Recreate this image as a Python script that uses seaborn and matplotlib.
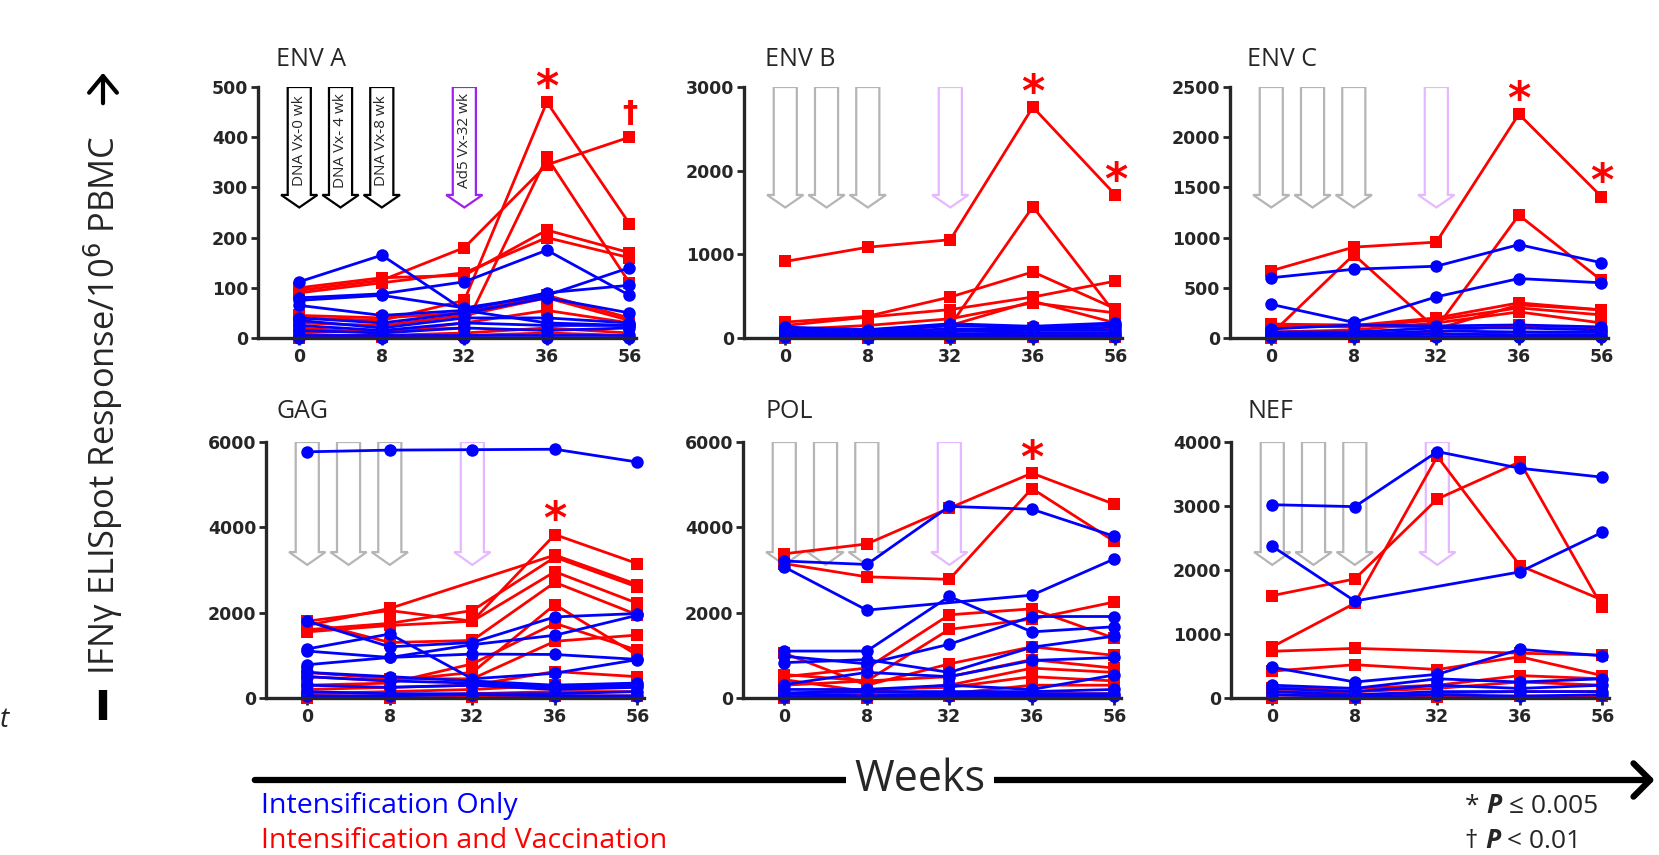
import numpy as np
import pandas as pd
import matplotlib
matplotlib.use("Agg")
import matplotlib.pyplot as plt
import seaborn as sns
from matplotlib.patches import Polygon, FancyArrowPatch
from matplotlib.lines import Line2D
from matplotlib.transforms import blended_transform_factory


WEEKS = [0, 8, 32, 36, 56]
DNA_WEEKS = [0, 4, 8]
AD5_WEEK = 32
DNA_LABELS = ["DNA Vx-0 wk", "DNA Vx- 4 wk", "DNA Vx-8 wk"]
AD5_LABEL = "Ad5 Vx-32 wk"

GROUP_BLUE = "Intensification Only"
GROUP_RED = "Intensification and Vaccination"

PANELS = ["ENV A", "ENV B", "ENV C", "GAG", "POL", "NEF"]
Y_MAX = [500, 3000, 2500, 6000, 6000, 4000]
Y_STEP = [100, 1000, 500, 2000, 2000, 1000]

# one row per subject, values at weeks 0, 8, 32, 36, 56 (None = no point)
ENV_A_RED = [
    [95, 115, 180, 345, 400],
    [40, 35, 75, 470, 228],
    [10, 15, 20, 360, 110],
    [100, 120, 125, 215, 170],
    [90, 110, 130, 200, 160],
    [45, 40, 50, 85, 40],
    [30, 25, 45, 80, 35],
    [20, 10, 30, 55, 30],
    [5, 5, 10, 20, 10],
    [0, 2, 5, 10, 5],
]
ENV_A_BLUE = [
    [112, 165, 55, 30, 25],
    [80, 88, 112, 175, 85],
    [75, 85, 60, 85, 140],
    [65, 45, 55, 90, 105],
    [40, 30, 50, 80, 50],
    [35, 20, 40, 40, 30],
    [25, 15, 30, 25, 25],
    [15, 10, 20, 15, 20],
    [5, 5, 5, 5, 5],
    [0, 0, 0, 0, 0],
]
ENV_B_RED = [
    [915, 1085, 1175, 2760, 1710],
    [50, 80, 150, 1570, 290],
    [190, 260, 490, 790, 350],
    [150, 250, 340, 490, 680],
    [100, 150, 230, 420, 300],
    [60, 90, 150, 440, 180],
    [30, 50, 80, 120, 100],
    [10, 20, 20, 50, 40],
    [0, 5, 5, 10, 10],
]
ENV_B_BLUE = [
    [130, 100, 170, 140, 180],
    [100, 80, 150, 120, 160],
    [80, 70, 110, 100, 130],
    [60, 50, 80, 90, 90],
    [40, 40, 50, 60, 60],
    [20, 20, 30, 30, 30],
    [10, 5, 10, 10, 10],
]
ENV_C_RED = [
    [670, 905, 955, 2230, 1408],
    [40, 830, 90, 330, 280],
    [130, 130, 100, 1224, 575],
    [140, 125, 200, 350, 280],
    [120, 110, 180, 300, 230],
    [60, 80, 150, 260, 150],
    [20, 30, 60, 130, 80],
    [0, 10, 20, 60, 40],
]
ENV_C_BLUE = [
    [600, 685, 715, 930, 750],
    [335, 155, 410, 592, 550],
    [90, 130, 120, 130, 110],
    [60, 60, 100, 100, 80],
    [40, 40, 70, 60, 60],
    [20, 20, 40, 30, 30],
    [10, 5, 10, 10, 10],
]
GAG_RED = [
    [1800, 2050, 1800, 3830, 3150],
    [1700, 2100, None, 3350, 2660],
    [1600, 1750, 2050, 3300, 2600],
    [1550, 1700, 1800, 2960, 2220],
    [1800, 1300, 1350, 2710, 1950],
    [500, 400, 600, 2190, 1000],
    [300, 350, 800, 1750, 1120],
    [600, 450, 450, 1330, 1475],
    [200, 250, 300, 620, 500],
    [100, 150, 200, 300, 300],
    [50, 50, 100, 150, 150],
    [0, 0, 20, 50, 50],
]
GAG_BLUE = [
    [5770, 5810, 5820, 5830, 5530],
    [1800, 1200, 1300, 1900, 1980],
    [1150, 1500, 450, 580, 900],
    [1100, 950, 1250, 1470, 1940],
    [780, 950, 1030, 1020, 905],
    [600, 500, 400, 300, 350],
    [500, 400, 350, 250, 300],
    [300, 250, 300, 200, 250],
    [150, 100, 100, 100, 150],
    [50, 50, 80, 50, 50],
]
POL_RED = [
    [3380, 3610, 4450, 5270, 4540],
    [3150, 2840, 2780, 4910, 3670],
    [500, 700, 1950, 2090, 1400],
    [300, 400, 1610, 1850, 2250],
    [1050, 300, 800, 1200, 1000],
    [550, 400, 500, 900, 700],
    [430, 150, 300, 700, 600],
    [100, 200, 250, 500, 400],
    [50, 100, 100, 300, 300],
    [0, 0, 50, 100, 100],
]
POL_BLUE = [
    [3210, 3130, 4490, 4425, 3790],
    [3070, 2060, None, 2410, 3260],
    [1100, 1100, 2380, 1550, 1670],
    [980, 800, 1260, 1910, 1910],
    [830, 900, 600, 1190, 1450],
    [315, 600, 500, 880, 950],
    [200, 200, 300, 200, 540],
    [120, 150, 150, 150, 200],
    [100, 50, 100, 100, 100],
    [30, 20, 50, 50, 50],
]
NEF_RED = [
    [1600, 1860, 3110, 3690, 1420],
    [800, 1480, 3775, 2070, 1530],
    [730, 775, None, 700, 670],
    [420, 520, 445, 645, 350],
    [150, 150, 200, 350, 300],
    [100, 100, 150, 250, 200],
    [50, 50, 80, 100, 100],
    [0, 0, 20, 30, 30],
]
NEF_BLUE = [
    [3020, 2990, 3850, 3590, 3450],
    [2370, 1515, None, 1970, 2590],
    [480, 250, 370, 760, 660],
    [200, 150, 300, 250, 300],
    [150, 100, 200, 150, 200],
    [100, 50, 100, 100, 100],
    [50, 20, 50, 30, 50],
]

RED_SETS = [ENV_A_RED, ENV_B_RED, ENV_C_RED, GAG_RED, POL_RED, NEF_RED]
BLUE_SETS = [ENV_A_BLUE, ENV_B_BLUE, ENV_C_BLUE, GAG_BLUE, POL_BLUE, NEF_BLUE]

SIG_MARKS = [
    ("ENV A", 36, "*"),
    ("ENV A", 56, "\u2020"),
    ("ENV B", 36, "*"),
    ("ENV B", 56, "*"),
    ("ENV C", 36, "*"),
    ("ENV C", 56, "*"),
    ("GAG", 36, "*"),
    ("POL", 36, "*"),
]

RED = "#ff0000"
BLUE = "#0000ff"
PALETTE = {GROUP_RED: RED, GROUP_BLUE: BLUE}
MARKERS = {GROUP_RED: "s", GROUP_BLUE: "o"}

FIG_W, FIG_H = 1659, 855
AX_LEFT_PX = [258, 744, 1230, 266, 743, 1231]
ROW_PX = [(87, 338), (442, 698)]
AX_WIDTH_PX = 378
TITLE_X_PX = [276, 765, 1247]
TITLE_BASE_PX = [66, 418]


def build_frame():
    rows = []
    for panel, red, blue in zip(PANELS, RED_SETS, BLUE_SETS):
        for group, series in ((GROUP_RED, red), (GROUP_BLUE, blue)):
            for i, vals in enumerate(series):
                for j, (wk, v) in enumerate(zip(WEEKS, vals)):
                    if v is None:
                        continue
                    rows.append({"panel": panel, "group": group,
                                 "subject": f"{group[:6]}{i}",
                                 "week": wk, "pos": j, "value": v})
    return pd.DataFrame(rows)


def week_pos(week):
    return np.interp(week, WEEKS, np.arange(len(WEEKS)))


def block_arrow(ax, cx, edge, label=None):
    trans = blended_transform_factory(ax.transData, ax.transAxes)
    w, hw, top, base, tip = 0.14, 0.22, 1.0, 0.57, 0.52
    verts = [(cx - w, top), (cx + w, top), (cx + w, base), (cx + hw, base),
             (cx, tip), (cx - hw, base), (cx - w, base)]
    ax.add_patch(Polygon(verts, closed=True, facecolor="white",
                         edgecolor=edge, lw=1.6, transform=trans, zorder=1))
    if label:
        ax.text(cx, 0.785, label, rotation=90, ha="center", va="center",
                fontsize=11, transform=trans, zorder=1.5)


def main():
    sns.set_style("ticks")
    plt.rcParams["font.family"] = ["Open Sans", "DejaVu Sans"]
    df = build_frame()

    fig = plt.figure(figsize=(FIG_W / 100, FIG_H / 100), dpi=100)

    for k, panel in enumerate(PANELS):
        row = k // 3
        top_px, bot_px = ROW_PX[row]
        rect = [AX_LEFT_PX[k] / FIG_W, (FIG_H - bot_px) / FIG_H,
                AX_WIDTH_PX / FIG_W, (bot_px - top_px) / FIG_H]
        ax = fig.add_axes(rect)

        first = k == 0
        for wk, lab in zip(DNA_WEEKS, DNA_LABELS):
            block_arrow(ax, week_pos(wk), "black" if first else "#b5b5b5",
                        lab if first else None)
        block_arrow(ax, week_pos(AD5_WEEK), "#a020f0" if first else "#e6b8ff",
                    AD5_LABEL if first else None)

        d = df[df["panel"] == panel]
        sns.lineplot(data=d, x="pos", y="value", hue="group", style="group",
                     units="subject", estimator=None,
                     hue_order=[GROUP_RED, GROUP_BLUE],
                     style_order=[GROUP_RED, GROUP_BLUE],
                     palette=PALETTE, markers=MARKERS, dashes=False,
                     legend=False, ax=ax, linewidth=2.0, markersize=9,
                     markeredgewidth=0, clip_on=False)

        ymax = Y_MAX[k]
        ax.set_xlim(-0.5, 4.08)
        ax.set_ylim(0, ymax)
        ax.set_xticks(range(len(WEEKS)))
        ax.set_xticklabels([str(w) for w in WEEKS])
        ax.set_yticks(np.arange(0, ymax + 1, Y_STEP[k]))
        ax.set_xlabel("")
        ax.set_ylabel("")
        sns.despine(ax=ax)
        for side in ("left", "bottom"):
            ax.spines[side].set_linewidth(2.4)
        ax.tick_params(direction="out", length=5, width=2, pad=2, labelsize=12.5)
        for lab in ax.get_xticklabels() + ax.get_yticklabels():
            lab.set_fontfamily("DejaVu Sans")
            lab.set_fontweight("bold")

        fig.text(TITLE_X_PX[k % 3] / FIG_W, (FIG_H - TITLE_BASE_PX[row]) / FIG_H,
                 panel, fontsize=18, va="baseline", ha="left")

        for sp, wk, sym in SIG_MARKS:
            if sp != panel:
                continue
            vmax = d[(d["group"] == GROUP_RED) & (d["week"] == wk)]["value"].max()
            size, off = (32, 1) if sym == "*" else (22, 11)
            ax.annotate(sym, xy=(WEEKS.index(wk), vmax), xytext=(0, off),
                        textcoords="offset points", ha="center", va="baseline",
                        color=RED, fontsize=size, family="DejaVu Sans",
                        fontweight="bold", annotation_clip=False)

    # y-axis label with bar and arrow
    lx = 103 / FIG_W
    fig.text(lx, (FIG_H - 405) / FIG_H, "IFN\u03b3 ELISpot Response/10$^6$ PBMC",
             rotation=90, ha="center", va="center", fontsize=24.8)
    fig.add_artist(Line2D([lx, lx], [(FIG_H - 720) / FIG_H, (FIG_H - 690) / FIG_H],
                          lw=6, color="black", solid_capstyle="butt",
                          transform=fig.transFigure))
    fig.add_artist(FancyArrowPatch((lx, (FIG_H - 106) / FIG_H), (lx, (FIG_H - 70) / FIG_H),
                                   arrowstyle="->,head_length=0.6,head_width=0.5",
                                   mutation_scale=20, lw=3, color="black",
                                   transform=fig.transFigure))

    # weeks arrow along the bottom
    wy = (FIG_H - 780) / FIG_H
    fig.add_artist(FancyArrowPatch((252 / FIG_W, wy), (0.999, wy),
                                   arrowstyle="->,head_length=0.6,head_width=0.6",
                                   mutation_scale=20, lw=4.5, color="black",
                                   transform=fig.transFigure, zorder=1))
    fig.text(920 / FIG_W, wy, "Weeks", ha="center", va="center", fontsize=31,
             zorder=5, bbox=dict(facecolor="white", edgecolor="none", pad=6))

    fig.text(0.0, (FIG_H - 720) / FIG_H, "t", style="italic", fontsize=20,
             va="center")

    # group legend
    fig.text(261 / FIG_W, (FIG_H - 806) / FIG_H, GROUP_BLUE, color=BLUE,
             fontsize=20.5, va="center")
    fig.text(261 / FIG_W, (FIG_H - 841) / FIG_H, GROUP_RED, color=RED,
             fontsize=20.5, va="center")

    # p-value key
    anchor_ax = fig.axes[0]
    for y_px, parts in ((806, ["* ", "P", " \u2264 0.005"]),
                        (841, ["\u2020 ", "P", " < 0.01"])):
        t = fig.text(1465 / FIG_W, (FIG_H - y_px) / FIG_H, parts[0],
                     fontsize=19, va="center")
        for j, s in enumerate(parts[1:]):
            kw = {"fontweight": "bold", "fontstyle": "italic"} if j == 0 else {}
            t = anchor_ax.annotate(s, xy=(1, 0), xycoords=t, va="bottom",
                                   fontsize=19, annotation_clip=False, **kw)

    fig.savefig("out.png", dpi=100)
    plt.close(fig)


if __name__ == "__main__":
    main()
